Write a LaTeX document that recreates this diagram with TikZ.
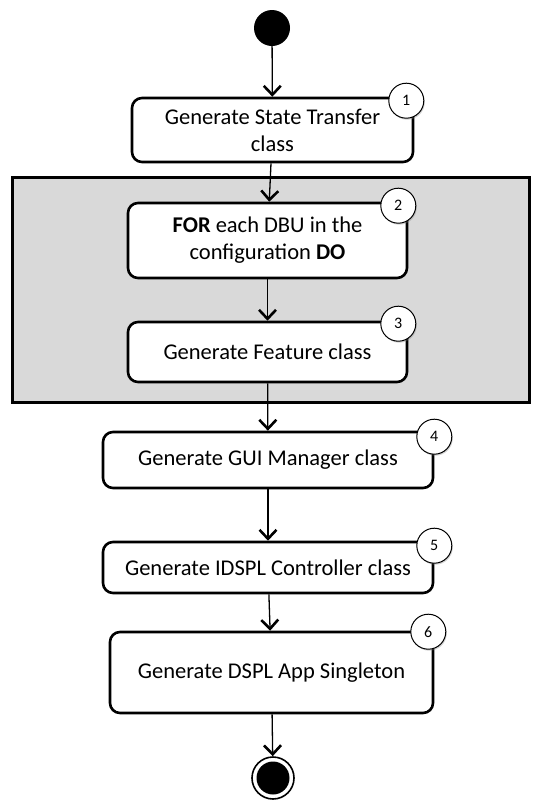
\documentclass[tikz,border=0pt]{standalone}
\usepackage{fontspec}
\setmainfont{Carlito}
\usetikzlibrary{arrows.meta,shadows,positioning}

\begin{document}
\begin{tikzpicture}[
    x=1pt, y=-1pt,
    action/.style={rectangle, draw, line width=2.6pt, rounded corners=10pt, fill=white, align=center, inner sep=0pt, font=\fontsize{22.5}{27}\selectfont},
    badge/.style={circle, draw, fill=white, line width=1pt, minimum size=35pt, inner sep=0pt, font=\fontsize{16}{16}\selectfont, drop shadow={shadow xshift=1pt, shadow yshift=-1.5pt, opacity=0.35}},
    flow/.style={line width=1.3pt, -{Straight Barb[length=9pt, width=17pt, line width=2.6pt]}},
    loopbox/.style={rectangle, draw, line width=3pt, fill=black!15, inner sep=0pt},
    initial/.style={circle, fill=black, inner sep=0pt, minimum size=36pt},
    final/.style={circle, draw, line width=1.6pt, fill=white, inner sep=0pt, minimum size=42pt}
]
\useasboundingbox (0,0) rectangle (534,809);

% Loop region
\node[loopbox, minimum width=517pt, minimum height=225pt] (loop) at (270.5,289.5) {};

% Start node
\node[initial] (start) at (272,28) {};

% Actions
\node[action, minimum width=281pt, minimum height=64pt] (s1) at (272.5,130) {Generate State Transfer\\class};
\node[action, minimum width=279pt, minimum height=75pt] (s2) at (267.5,240.5) {\textbf{FOR} each DBU in the\\configuration \textbf{DO}};
\node[action, minimum width=279pt, minimum height=60pt] (s3) at (267.5,352) {Generate Feature class};
\node[action, minimum width=330pt, minimum height=56pt] (s4) at (268,460) {Generate GUI Manager class};
\node[action, minimum width=330pt, minimum height=51pt] (s5) at (268,567.5) {Generate IDSPL Controller class};
\node[action, minimum width=323pt, minimum height=81pt] (s6) at (271.5,672.5) {Generate DSPL App Singleton};

% End node
\node[final] (stop) at (273,778) {};
\node[initial, minimum size=33pt] (stopdot) at (stop) {};

% Step numbers
\node[badge] (b1) at ([xshift=-8pt, yshift=-4pt]s1.north east) {1};
\node[badge] (b2) at ([xshift=-10pt, yshift=-4pt]s2.north east) {2};
\node[badge] (b3) at ([xshift=-10pt, yshift=-3pt]s3.north east) {3};
\node[badge] (b4) at ([yshift=-6pt]s4.north east) {4};
\node[badge] (b5) at ([yshift=-5pt]s5.north east) {5};
\node[badge] (b6) at ([xshift=-6pt, yshift=-1pt]s6.north east) {6};

% Control flow
\draw[flow] (start) -- (s1);
\draw[flow] (s1) -- (s2);
\draw[flow] (s2) -- (s3);
\draw[flow] (s3) -- (s4);
\draw[flow] (s4) -- (s5);
\draw[flow] (s5) -- (s6);
\draw[flow] (s6) -- (stop);

\end{tikzpicture}
\end{document}
